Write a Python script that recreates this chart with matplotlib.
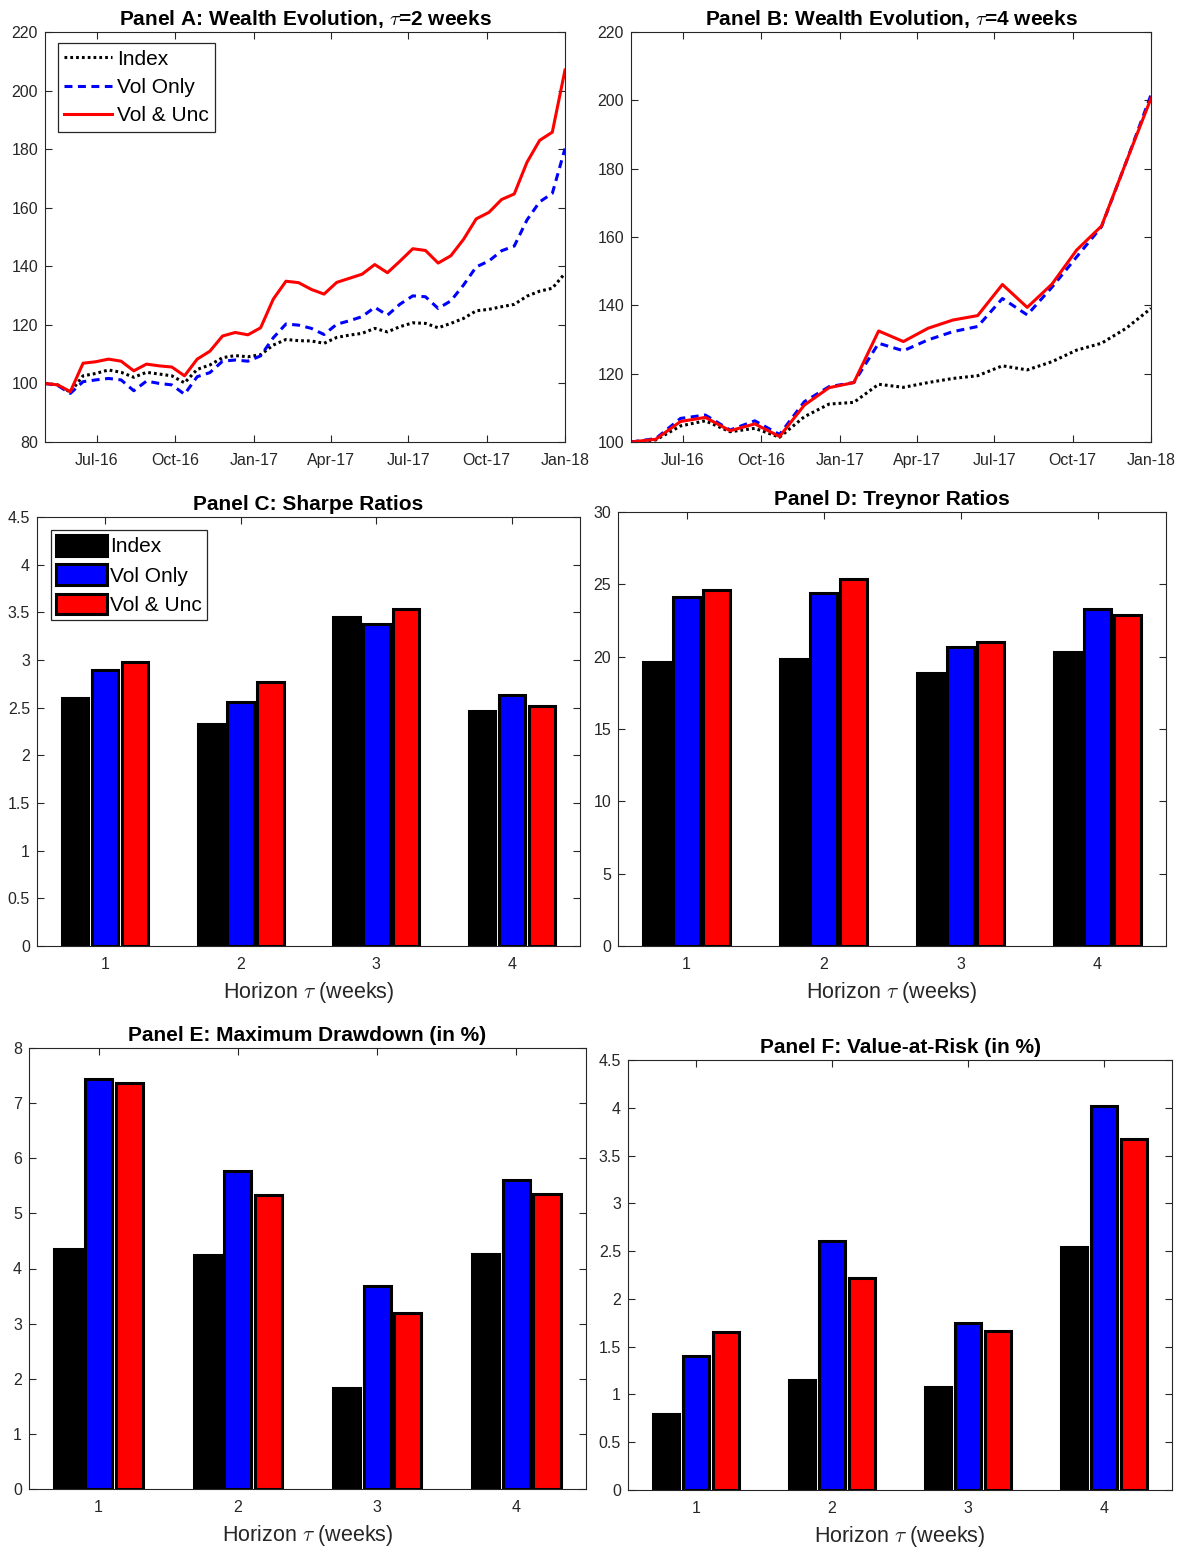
import matplotlib
matplotlib.use('Agg')
import matplotlib.pyplot as plt
import matplotlib.dates as mdates
from matplotlib.patches import Patch
from matplotlib.ticker import FuncFormatter, MultipleLocator
import numpy as np
import pandas as pd

plt.rcParams['font.family'] = ['Liberation Sans', 'DejaVu Sans']
plt.rcParams['mathtext.fontset'] = 'cm'

# ---------------- data ----------------
series_names = ['Index', 'Vol Only', 'Vol & Unc']
series_colors = ['black', 'blue', 'red']

# Panel A: wealth evolution, tau = 2 weeks (42 observations)
a_index = [100, 99.5, 97.0, 102.6, 103.4, 104.6, 103.8, 102.1, 103.8, 103.2, 102.6, 100.2,
           104.8, 106.3, 108.8, 109.5, 109.1, 109.8, 113.1, 115.0, 114.6, 114.5, 113.7, 115.7,
           116.5, 117.1, 118.8, 117.6, 119.4, 120.7, 120.5, 119.0, 120.5, 122.2, 124.8, 125.3,
           126.2, 127.0, 129.8, 131.5, 132.5, 137.6]
a_vol = [100, 99.3, 96.6, 100.6, 101.2, 101.7, 101.2, 97.5, 100.8, 100.0, 99.5, 96.3,
         102.3, 103.7, 107.6, 108.0, 107.6, 109.4, 115.6, 120.3, 119.9, 118.8, 116.7, 120.2,
         121.4, 122.8, 126.0, 123.3, 127.1, 129.9, 129.6, 125.6, 128.2, 133.6, 139.8, 141.8,
         145.3, 146.9, 155.8, 162.0, 164.9, 180.2]
a_unc = [100, 99.5, 97.2, 106.9, 107.4, 108.3, 107.6, 104.3, 106.6, 106.0, 105.6, 102.6,
         108.3, 111.0, 116.2, 117.4, 116.6, 119.0, 128.8, 134.9, 134.4, 132.1, 130.5, 134.5,
         135.9, 137.3, 140.6, 137.8, 141.8, 146.0, 145.4, 141.1, 143.6, 149.2, 156.2, 158.4,
         162.8, 164.7, 175.5, 183.0, 185.8, 207.0]

# Panel B: wealth evolution, tau = 4 weeks (22 observations)
b_index = [100, 100.6, 104.7, 106.2, 103.0, 104.0, 101.4, 107.4, 111.1, 111.6, 116.9,
           116.0, 117.4, 118.6, 119.4, 122.3, 121.1, 123.5, 126.9, 128.9, 133.3, 139.1]
b_vol = [100, 101.0, 106.9, 107.9, 103.5, 106.2, 102.2, 111.8, 116.2, 117.4, 128.9,
         126.7, 129.9, 132.3, 133.8, 142.0, 137.2, 145.3, 154.2, 163.0, 182.0, 201.6]
b_unc = [100, 100.8, 106.0, 107.2, 103.3, 105.3, 101.6, 110.8, 115.9, 117.4, 132.5,
         129.4, 133.3, 135.7, 137.0, 146.1, 139.4, 146.2, 156.2, 163.2, 182.0, 200.6]

date_start, date_end = '2016-05-01', '2018-01-01'
dates_a = pd.date_range(date_start, date_end, periods=len(a_index))
dates_b = pd.date_range(date_start, date_end, periods=len(b_index))
date_ticks = pd.to_datetime(['2016-07-01', '2016-10-01', '2017-01-01', '2017-04-01',
                             '2017-07-01', '2017-10-01', '2018-01-01'])

# Bar panels: horizons 1..4 weeks
horizons = [1, 2, 3, 4]
sharpe_index = [2.60, 2.33, 3.45, 2.47]
sharpe_vol = [2.89, 2.56, 3.38, 2.63]
sharpe_unc = [2.98, 2.77, 3.54, 2.52]

treynor_index = [19.6, 19.85, 18.9, 20.3]
treynor_vol = [24.1, 24.4, 20.7, 23.3]
treynor_unc = [24.6, 25.35, 21.0, 22.9]

mdd_index = [4.35, 4.25, 1.83, 4.26]
mdd_vol = [7.44, 5.77, 3.69, 5.61]
mdd_unc = [7.36, 5.33, 3.19, 5.35]

var_index = [0.80, 1.15, 1.08, 2.545]
var_vol = [1.40, 2.61, 1.75, 4.02]
var_unc = [1.65, 2.22, 1.66, 3.675]

# ---------------- figure ----------------
W, H = 1181, 1549
fig = plt.figure(figsize=(W / 100, H / 100), dpi=100)

def px_axes(left, top, right, bottom):
    return fig.add_axes([left / W, 1 - bottom / H, (right - left) / W, (bottom - top) / H])

axc = '#262626'
tick_fs = 11.5
title_fs = 15
label_fs = 15.5
legend_fs = 15

def style(ax):
    for s in ax.spines.values():
        s.set_color(axc)
        s.set_linewidth(0.8)
    ax.tick_params(direction='in', length=5, width=0.8, top=True, right=True,
                   colors=axc, labelsize=tick_fs, labelcolor=axc)
    ax.tick_params(axis='x', pad=8)
    ax.tick_params(axis='y', pad=5)

gfmt = FuncFormatter(lambda v, p: ('%g' % round(v, 4)))

def line_panel(ax, dates, idx, vol, unc, ylim, title, legend=False):
    ax.plot(dates, idx, color='black', lw=2.2, linestyle=(0, (0.9, 1.0)), label=series_names[0])
    ax.plot(dates, vol, color='blue', lw=2.2, linestyle=(0, (2.6, 1.8)), label=series_names[1])
    ax.plot(dates, unc, color='red', lw=2.2, linestyle='-', label=series_names[2])
    ax.set_xlim(dates[0], dates[-1])
    ax.set_ylim(*ylim)
    ax.yaxis.set_major_locator(MultipleLocator(20))
    ax.set_xticks(date_ticks)
    ax.xaxis.set_major_formatter(mdates.DateFormatter('%b-%y'))
    style(ax)
    ax.set_title(title, fontsize=title_fs, fontweight='bold', pad=5)
    if legend:
        leg = ax.legend(loc='upper left', bbox_to_anchor=(0.025, 0.972), borderaxespad=0,
                        fontsize=legend_fs, handlelength=2.3, handletextpad=0.25,
                        labelspacing=0.45, borderpad=0.3, fancybox=False, framealpha=1)
        leg.get_frame().set_edgecolor(axc)
        leg.get_frame().set_linewidth(0.9)

axA = px_axes(45, 32, 565, 442)
line_panel(axA, dates_a, a_index, a_vol, a_unc, (80, 220),
           r'Panel A: Wealth Evolution, $\tau$=2 weeks', legend=True)
axB = px_axes(631, 32, 1151, 442)
line_panel(axB, dates_b, b_index, b_vol, b_unc, (100, 220),
           r'Panel B: Wealth Evolution, $\tau$=4 weeks')

offsets = [-0.22, 0.0, 0.22]
bar_w = 0.195

def bar_panel(ax, idx, vol, unc, ylim, step, title, legend=False):
    x = np.array(horizons, dtype=float)
    for vals, col, off, name in zip([idx, vol, unc], series_colors, offsets, series_names):
        ax.bar(x + off, vals, width=bar_w, color=col, edgecolor='black', linewidth=2.2,
               label=name, zorder=2)
    ax.set_xlim(0.5, 4.5)
    ax.set_ylim(*ylim)
    ax.set_xticks(horizons)
    ax.yaxis.set_major_locator(MultipleLocator(step))
    ax.yaxis.set_major_formatter(gfmt)
    style(ax)
    ax.set_title(title, fontsize=title_fs, fontweight='bold', pad=5)
    ax.set_xlabel(r'Horizon $\tau$ (weeks)', fontsize=label_fs, color=axc, labelpad=6)
    if legend:
        handles = [Patch(facecolor=c, edgecolor='black', linewidth=2.2) for c in series_colors]
        leg = ax.legend(handles, series_names, loc='upper left', bbox_to_anchor=(0.026, 0.97),
                        borderaxespad=0, fontsize=legend_fs, handlelength=2.45, handleheight=1.15,
                        handletextpad=0.12, labelspacing=0.38, borderpad=0.25,
                        fancybox=False, framealpha=1)
        leg.get_frame().set_edgecolor(axc)
        leg.get_frame().set_linewidth(0.9)

axC = px_axes(37, 517, 580, 946)
bar_panel(axC, sharpe_index, sharpe_vol, sharpe_unc, (0, 4.5), 0.5,
          'Panel C: Sharpe Ratios', legend=True)
axD = px_axes(618, 512, 1166, 946)
bar_panel(axD, treynor_index, treynor_vol, treynor_unc, (0, 30), 5,
          'Panel D: Treynor Ratios')
axE = px_axes(29, 1048, 586, 1489)
bar_panel(axE, mdd_index, mdd_vol, mdd_unc, (0, 8), 1,
          'Panel E: Maximum Drawdown (in %)')
axF = px_axes(628, 1060, 1172, 1490)
bar_panel(axF, var_index, var_vol, var_unc, (0, 4.5), 0.5,
          'Panel F: Value-at-Risk (in %)')

fig.savefig('out.png', dpi=100, facecolor='white')
